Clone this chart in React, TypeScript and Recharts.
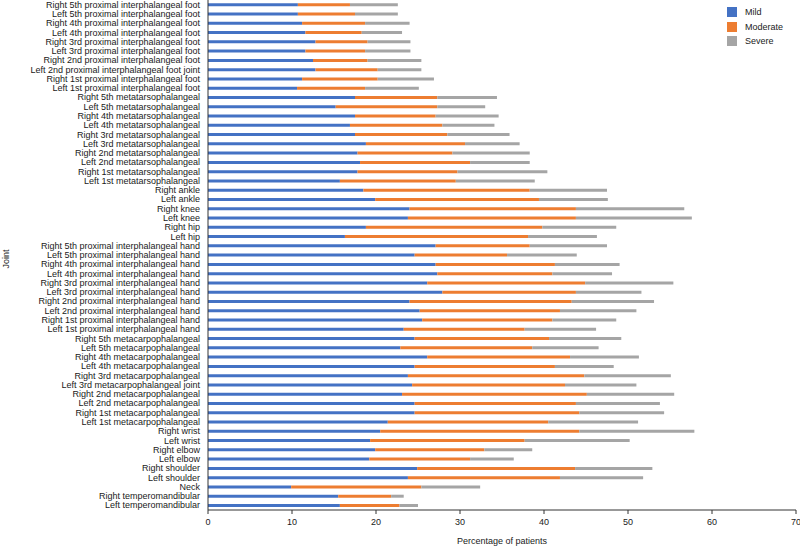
import React from 'react';
import { BarChart, Bar, XAxis, YAxis, Legend, Label } from 'recharts';

const joints = [
  'Right 5th proximal interphalangeal foot',
  'Left 5th proximal interphalangeal foot',
  'Right 4th proximal interphalangeal foot',
  'Left 4th proximal interphalangeal foot',
  'Right 3rd proximal interphalangeal foot',
  'Left 3rd proximal interphalangeal foot',
  'Right 2nd proximal interphalangeal foot',
  'Left 2nd proximal interphalangeal foot joint',
  'Right 1st proximal interphalangeal foot',
  'Left 1st proximal interphalangeal foot',
  'Right 5th metatarsophalangeal',
  'Left 5th metatarsophalangeal',
  'Right 4th metatarsophalangeal',
  'Left 4th metatarsophalangeal',
  'Right 3rd metatarsophalangeal',
  'Left 3rd metatarsophalangeal',
  'Right 2nd metatarsophalangeal',
  'Left 2nd metatarsophalangeal',
  'Right 1st metatarsophalangeal',
  'Left 1st metatarsophalangeal',
  'Right ankle',
  'Left ankle',
  'Right knee',
  'Left knee',
  'Right hip',
  'Left hip',
  'Right 5th proximal interphalangeal hand',
  'Left 5th proximal interphalangeal hand',
  'Right 4th proximal interphalangeal hand',
  'Left 4th proximal interphalangeal hand',
  'Right 3rd proximal interphalangeal hand',
  'Left 3rd proximal interphalangeal hand',
  'Right 2nd proximal interphalangeal hand',
  'Left 2nd proximal interphalangeal hand',
  'Right 1st proximal interphalangeal hand',
  'Left 1st proximal interphalangeal hand',
  'Right 5th metacarpophalangeal',
  'Left 5th metacarpophalangeal',
  'Right 4th metacarpophalangeal',
  'Left 4th metacarpophalangeal',
  'Right 3rd metacarpophalangeal',
  'Left 3rd metacarpophalangeal joint',
  'Right 2nd metacarpophalangeal',
  'Left 2nd metacarpophalangeal',
  'Right 1st metacarpophalangeal',
  'Left 1st metacarpophalangeal',
  'Right wrist',
  'Left wrist',
  'Right elbow',
  'Left elbow',
  'Right shoulder',
  'Left shoulder',
  'Neck',
  'Right temperomandibular',
  'Left temperomandibular',
];

const mild = [
  10.7, 10.7, 11.2, 11.6, 12.8, 11.6, 12.5, 12.8, 11.2, 10.6,
  17.5, 15.2, 17.5, 16.9, 17.5, 18.8, 17.8, 18.1, 17.8, 15.7,
  18.5, 19.9, 24.0, 23.8, 18.8, 16.3,
  27.1, 24.6, 27.1, 27.3, 26.1, 27.9, 24.0, 25.2, 25.5, 23.3,
  24.6, 22.9, 26.1, 24.6, 23.8, 24.3, 23.1, 24.6, 24.6, 21.4,
  20.5, 19.3, 19.9, 19.2, 24.9, 23.8, 9.9, 15.5, 15.7,
];

const moderate = [
  6.2, 6.8, 7.5, 6.7, 6.2, 7.1, 6.5, 7.4, 9.0, 8.1,
  9.8, 12.1, 9.6, 11.0, 11.0, 11.8, 11.3, 13.1, 11.9, 13.8,
  19.8, 19.5, 19.8, 20.0, 21.0, 21.8,
  11.2, 11.0, 14.2, 13.7, 18.8, 15.9, 19.3, 16.7, 15.5, 14.4,
  16.0, 15.7, 17.0, 16.7, 21.0, 18.2, 22.0, 19.2, 19.6, 19.1,
  23.7, 18.4, 13.0, 12.0, 18.8, 18.1, 15.5, 6.3, 7.1,
];

const severe = [
  5.7, 5.1, 5.3, 4.8, 5.1, 5.4, 6.4, 5.2, 6.7, 6.4,
  7.1, 5.7, 7.5, 6.2, 7.4, 6.5, 9.2, 7.1, 10.7, 9.4,
  9.2, 8.2, 12.9, 13.8, 8.8, 8.2,
  9.2, 8.3, 7.7, 7.1, 10.5, 7.8, 9.8, 9.1, 7.6, 8.5,
  8.6, 7.9, 8.2, 7.0, 10.3, 8.5, 10.4, 10.0, 10.1, 10.7,
  13.7, 12.5, 5.7, 5.2, 9.2, 9.9, 7.0, 1.5, 2.2,
];

const xTicks = [0, 10, 20, 30, 40, 50, 60, 70];
const seriesKeys = ['mild', 'moderate', 'severe'];
const seriesNames = ['Mild', 'Moderate', 'Severe'];
const seriesColors = ['#4472C4', '#ED7D31', '#A5A5A5'];

const data = joints.map((name, i) => ({
  name,
  mild: mild[i],
  moderate: moderate[i],
  severe: severe[i],
}));

const FONT = '"Liberation Sans", Arial, Helvetica, sans-serif';

const LegendContent = () => (
  <div style={{ fontFamily: FONT, fontSize: 9, color: '#222' }}>
    {seriesNames.map((n, i) => (
      <div key={n} style={{ display: 'flex', alignItems: 'center', height: 14.5 }}>
        <span
          style={{
            display: 'inline-block',
            width: 10,
            height: 10,
            background: seriesColors[i],
            marginRight: 8,
          }}
        />
        <span>{n}</span>
      </div>
    ))}
  </div>
);

const YTick = (props: any) => {
  const { x, y, payload } = props;
  return (
    <text x={x} y={y} dy="0.34em" textAnchor="end" fontSize={9} fill="#1a1a1a" fontFamily={FONT}>
      {payload.value}
    </text>
  );
};

const XTick = (props: any) => {
  const { x, y, payload } = props;
  return (
    <text x={x} y={y} dy="0.71em" textAnchor="middle" fontSize={9} fill="#1a1a1a" fontFamily={FONT}>
      {payload.value}
    </text>
  );
};

export default function App() {
  return (
    <div style={{ position: 'absolute', left: 0, top: 0, background: '#fff' }}>
      <BarChart
        width={800}
        height={547}
        layout="vertical"
        data={data}
        margin={{ top: 0, right: 4, left: 0, bottom: 0 }}
        barCategoryGap="35%"
        style={{ fontFamily: FONT }}
      >
        <XAxis
          type="number"
          domain={[0, 70]}
          ticks={xTicks}
          interval={0}
          height={37}
          tickSize={4}
          tickMargin={5}
          stroke="#333"
          tick={<XTick />}
        >
          <Label
            content={() => (
              <text x={502} y={544} textAnchor="middle" fontSize={9} fill="#1a1a1a" fontFamily={FONT}>
                Percentage of patients
              </text>
            )}
          />
        </XAxis>
        <YAxis
          type="category"
          dataKey="name"
          width={208}
          interval={0}
          tickSize={0}
          tickMargin={8}
          tickLine={false}
          stroke="#333"
          tick={<YTick />}
        >
          <Label
            content={() => (
              <text
                x={9}
                y={259}
                transform="rotate(-90 9 259)"
                textAnchor="middle"
                fontSize={9}
                fill="#1a1a1a"
                fontFamily={FONT}
              >
                Joint
              </text>
            )}
          />
        </YAxis>
        <Legend
          layout="vertical"
          align="center"
          verticalAlign="middle"
          wrapperStyle={{ left: 727, top: 5, width: 70 }}
          content={() => <LegendContent />}
        />
        {seriesKeys.map((k, i) => (
          <Bar
            key={k}
            dataKey={k}
            name={seriesNames[i]}
            stackId="a"
            fill={seriesColors[i]}
            isAnimationActive={false}
          />
        ))}
      </BarChart>
    </div>
  );
}
